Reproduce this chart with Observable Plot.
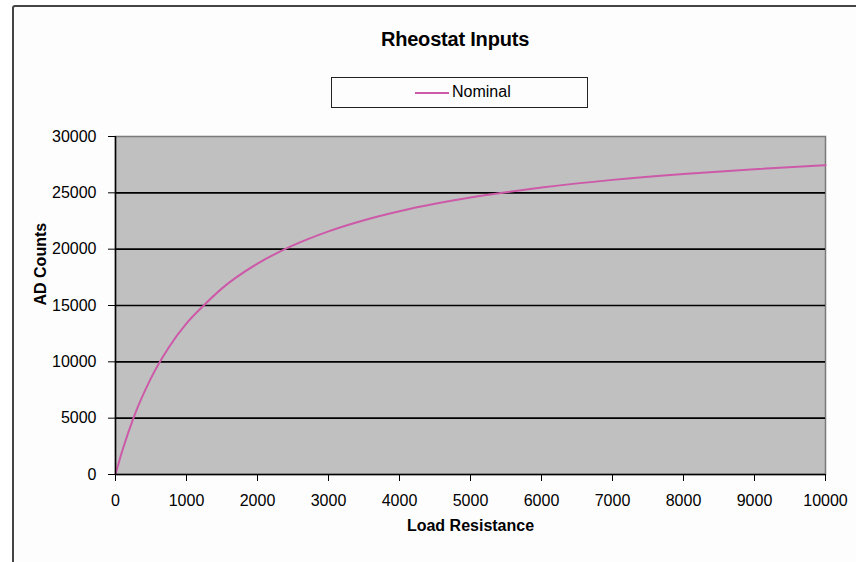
<!DOCTYPE html>
<html>
<head>
<meta charset="utf-8">
<script src="https://cdn.jsdelivr.net/npm/d3@7"></script>
<script src="https://cdn.jsdelivr.net/npm/@observablehq/plot@0.6"></script>
<style>
  body { margin: 0; background: #ffffff; font-family: "Liberation Sans", Arial, sans-serif; }
  #wrap { position: relative; width: 856px; height: 562px; overflow: hidden; background: #ffffff; }
  #frame { position: absolute; left: 12px; top: 5px; width: 900px; height: 620px; border: 2px solid #444; border-radius: 3px; background: #fdfdfd; }
  #title { position: absolute; left: 305px; top: 28px; width: 300px; text-align: center; font-weight: bold; font-size: 20px; color: #000; letter-spacing: -0.2px; }
  #legend { position: absolute; left: 331px; top: 77px; width: 255px; height: 29px; border: 1.5px solid #222; background: #fdfdfd; }
  #legend .sw { position: absolute; left: 83px; top: 14px; width: 34px; height: 0; border-top: 2px solid #cc5aa8; }
  #legend .lb { position: absolute; left: 120px; top: 5px; font-size: 16px; color: #000; }
  #chart { position: absolute; left: 0; top: 0; }
</style>
</head>
<body>
<div id="wrap">
  <div id="frame"></div>
  <div id="title">Rheostat Inputs</div>
  <div id="legend"><div class="sw"></div><div class="lb">Nominal</div></div>
  <div id="chart"></div>
</div>
<script>
// Load resistance (x) and AD counts (y)
const loadResistance = [0, 50, 100, 250, 500, 750, 1000, 1250, 1500, 2000, 2500, 3000, 3500, 4000, 4500, 5000, 5500, 6000, 7000, 8000, 9000, 10000];
const adCounts =       [0, 1140, 2190, 4960, 8550, 11270, 13410, 15050, 16520, 18720, 20330, 21580, 22570, 23370, 24030, 24590, 25060, 25470, 26150, 26680, 27100, 27450];
const seriesName = "Nominal";
const xTicks = [0, 1000, 2000, 3000, 4000, 5000, 6000, 7000, 8000, 9000, 10000];
const yTicks = [0, 5000, 10000, 15000, 20000, 25000, 30000];
const xLabel = "Load Resistance";
const yLabel = "AD Counts";

const data = loadResistance.map((x, i) => ({x, y: adCounts[i], series: seriesName}));
const gridValues = yTicks.filter(v => v > 0 && v < 30000);

const chart = Plot.plot({
  width: 856,
  height: 562,
  marginLeft: 115,
  marginRight: 31,
  marginTop: 136,
  marginBottom: 88,
  style: { fontFamily: "Liberation Sans, Arial, sans-serif", fontSize: "16px", color: "#000", background: "transparent" },
  x: { domain: [0, 10000] },
  y: { domain: [0, 30000] },
  marks: [
    Plot.frame({ fill: "#c0c0c0", stroke: "#7a7a7a", strokeWidth: 1.5 }),
    Plot.ruleY(gridValues, { stroke: "#000", strokeWidth: 1.6 }),
    Plot.line(data, { x: "x", y: "y", stroke: "#cc5aa8", strokeWidth: 2, curve: "monotone-x" }),
    Plot.ruleX([0], { stroke: "#000", strokeWidth: 1.5 }),
    Plot.ruleY([0], { stroke: "#000", strokeWidth: 1.5 }),
    Plot.axisX({ ticks: xTicks, tickSize: 7, tickPadding: 13, tickFormat: d => String(d), label: null, fontSize: 16 }),
    Plot.axisY({ ticks: yTicks, tickSize: 7, tickPadding: 12, tickFormat: d => String(d), label: null, fontSize: 16 }),
    Plot.text([xLabel], { text: d => d, frameAnchor: "bottom", dy: 56, fontWeight: "bold", fontSize: 16 }),
    Plot.text([yLabel], { text: d => d, frameAnchor: "left", dx: -75, rotate: -90, fontWeight: "bold", fontSize: 16 })
  ]
});
document.getElementById("chart").appendChild(chart);
</script>
</body>
</html>
